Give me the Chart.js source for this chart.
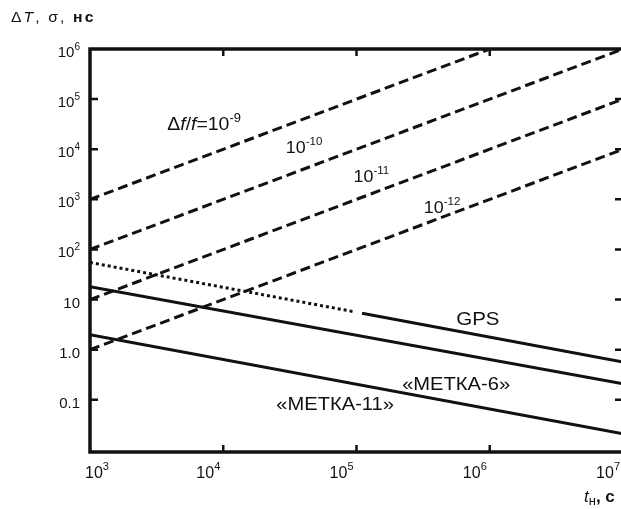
<!DOCTYPE html>
<html>
<head>
<meta charset="utf-8">
<script src="https://cdn.jsdelivr.net/npm/chart.js@4/dist/chart.umd.min.js"></script>
<style>
body{margin:0;background:#fff;overflow:hidden;}
#marco{width:621px;height:509px;overflow:hidden;}
</style>
</head>
<body>
<div id="marco"><canvas id="grafica" width="625" height="509"></canvas></div>
<script>
// tiempo t (s) vs desviacion (ns)
var tExt = [1e3, 1e7];
var df9X = [1e3, 1e6];
var df9Y = [1e3, 1e6];
var df10Y = [100, 1e6];
var df11Y = [10, 1e5];
var df12Y = [1, 1e4];
var gpsPuntosX = [1e3, 9.7e4];
var gpsPuntosY = [55, 5.7];
var gpsX = [1.1e5, 1e7];
var gpsY = [5.35, 0.57];
var metka6Y = [18, 0.21];
var metka11Y = [2.0, 0.021];

var xTicks = [1e3, 1e4, 1e5, 1e6, 1e7];
var xTickBase = ['10', '10', '10', '10', '10'];
var xTickExp = ['3', '4', '5', '6', '7'];
var yTicks = [0.1, 1, 10, 100, 1e3, 1e4, 1e5, 1e6];
var yTickBase = ['0.1', '1.0', '10', '10', '10', '10', '10', '10'];
var yTickExp = ['', '', '', '2', '3', '4', '5', '6'];

var FUENTE = "'Liberation Sans', Arial, sans-serif";
var NEGRO = '#111';

function puntos(xs, ys){
  return xs.map(function(x, i){ return {x: x, y: ys[i]}; });
}

function serie(xs, ys, dash){
  return {
    data: puntos(xs, ys),
    borderColor: NEGRO,
    borderWidth: 3,
    borderDash: dash,
    borderCapStyle: 'butt',
    pointRadius: 0,
    fill: false,
    tension: 0
  };
}

// textos dentro del grafico (posicion en unidades de datos)
var notas = [
  {t: 3.8e3, v: 2.4e4, partes: [['Δ', 0, 0], ['f', 1, 0], ['/', 0, 0], ['f', 1, 0], ['=10', 0, 0], ['-9', 2, -8]], tam: 18, k: 1.08},
  {t: 2.95e4, v: 8.3e3, partes: [['10', 0, 0], ['-10', 2, -8]], tam: 17, k: 1.05},
  {t: 9.5e4, v: 2.2e3, partes: [['10', 0, 0], ['-11', 2, -8]], tam: 17, k: 1.05},
  {t: 3.2e5, v: 535, partes: [['10', 0, 0], ['-12', 2, -8]], tam: 17, k: 1.05},
  {t: 5.6e5, v: 3.1, partes: [['GPS', 0, 0]], tam: 19, k: 1.08},
  {t: 2.2e5, v: 0.155, partes: [['«МЕТКА-6»', 0, 0]], tam: 19, k: 1.06},
  {t: 2.5e4, v: 0.063, partes: [['«МЕТКА-11»', 0, 0]], tam: 19, k: 1.06}
];

function fuente(tipo, tam){
  if(tipo == 1) return 'italic ' + tam + 'px ' + FUENTE;
  if(tipo == 2) return Math.round(tam * 0.66) + 'px ' + FUENTE;
  if(tipo == 3) return Math.round(tam * 0.75) + 'px ' + FUENTE;
  if(tipo == 4) return 'bold ' + tam + 'px ' + FUENTE;
  return tam + 'px ' + FUENTE;
}

function anchoRico(ctx, partes, tam){
  var w = 0;
  for(var i = 0; i < partes.length; i++){
    ctx.font = fuente(partes[i][1], tam);
    w += ctx.measureText(partes[i][0]).width;
  }
  return w;
}

function textoRico(ctx, x, y, partes, tam, k){
  ctx.save();
  ctx.translate(x, y);
  ctx.scale(k || 1, 1);
  ctx.textAlign = 'left';
  ctx.textBaseline = 'alphabetic';
  var px = 0;
  for(var i = 0; i < partes.length; i++){
    ctx.font = fuente(partes[i][1], tam);
    ctx.fillText(partes[i][0], px, partes[i][2]);
    px += ctx.measureText(partes[i][0]).width;
  }
  ctx.restore();
}

var pluginMarco = {
  id: 'marco',
  afterDatasetsDraw: function(chart){
    var ctx = chart.ctx, a = chart.chartArea;
    var sx = chart.scales.x, sy = chart.scales.y;
    ctx.save();
    ctx.strokeStyle = NEGRO;
    ctx.fillStyle = NEGRO;
    ctx.lineWidth = 3.5;
    ctx.strokeRect(a.left, a.top, a.right - a.left, a.bottom - a.top);

    // marcas hacia adentro
    ctx.lineWidth = 2.5;
    ctx.beginPath();
    xTicks.forEach(function(v){
      var px = sx.getPixelForValue(v);
      if(px <= a.left + 2 || px >= a.right - 2) return;
      ctx.moveTo(px, a.bottom); ctx.lineTo(px, a.bottom - 7);
      ctx.moveTo(px, a.top); ctx.lineTo(px, a.top + 7);
    });
    yTicks.forEach(function(v){
      var py = sy.getPixelForValue(v);
      if(py <= a.top + 2 || py >= a.bottom - 2) return;
      ctx.moveTo(a.left, py); ctx.lineTo(a.left + 8, py);
      ctx.moveTo(a.right, py); ctx.lineTo(a.right - 8, py);
    });
    ctx.stroke();

    // etiquetas de los ejes
    yTicks.forEach(function(v, i){
      var partes = [[yTickBase[i], 0, 0]];
      if(yTickExp[i]) partes.push([yTickExp[i], 2, -7]);
      var w = anchoRico(ctx, partes, 15);
      textoRico(ctx, a.left - 10 - w, sy.getPixelForValue(v) + 8, partes, 15);
    });
    xTicks.forEach(function(v, i){
      var partes = [[xTickBase[i], 0, 0], [xTickExp[i], 2, -8]];
      var w = anchoRico(ctx, partes, 16);
      var x0 = sx.getPixelForValue(v) - 3 - w;
      if(i == 0) x0 = a.left - 5;
      textoRico(ctx, x0, a.bottom + 26, partes, 16);
    });

    notas.forEach(function(n){
      textoRico(ctx, sx.getPixelForValue(n.t), sy.getPixelForValue(n.v), n.partes, n.tam, n.k);
    });

    // titulos de ejes
    ctx.letterSpacing = '2px';
    textoRico(ctx, 11, 22, [['Δ', 0, 0], ['T', 1, 0], [', σ, ', 0, 0], ['нс', 4, 0]], 15, 1.05);
    ctx.letterSpacing = '0px';
    textoRico(ctx, 584, 502, [['t', 1, 0], ['н', 3, 3], [', с', 4, 0]], 17);
    ctx.restore();
  }
};

new Chart(document.getElementById('grafica'), {
  type: 'line',
  data: {
    datasets: [
      serie(df9X, df9Y, [10, 5]),
      serie(tExt, df10Y, [10, 5]),
      serie(tExt, df11Y, [10, 5]),
      serie(tExt, df12Y, [10, 5]),
      serie(gpsPuntosX, gpsPuntosY, [3, 3]),
      serie(gpsX, gpsY, []),
      serie(tExt, metka6Y, []),
      serie(tExt, metka11Y, [])
    ]
  },
  options: {
    responsive: false,
    animation: false,
    layout: { padding: { top: 49, right: 2, left: 0, bottom: 0 } },
    plugins: { legend: { display: false }, tooltip: { enabled: false } },
    scales: {
      x: {
        type: 'logarithmic',
        min: 1e3,
        max: 1e7,
        afterBuildTicks: function(s){ s.ticks = xTicks.map(function(v){ return {value: v, major: true}; }); },
        afterFit: function(s){ s.height = 57; },
        grid: { display: false, drawTicks: false },
        border: { display: false },
        ticks: { display: false }
      },
      y: {
        type: 'logarithmic',
        min: 0.0091,
        max: 1e6,
        afterBuildTicks: function(s){ s.ticks = yTicks.map(function(v){ return {value: v, major: true}; }); },
        afterFit: function(s){ s.width = 90; },
        grid: { display: false, drawTicks: false },
        border: { display: false },
        ticks: { display: false }
      }
    }
  },
  plugins: [pluginMarco]
});
</script>
</body>
</html>
